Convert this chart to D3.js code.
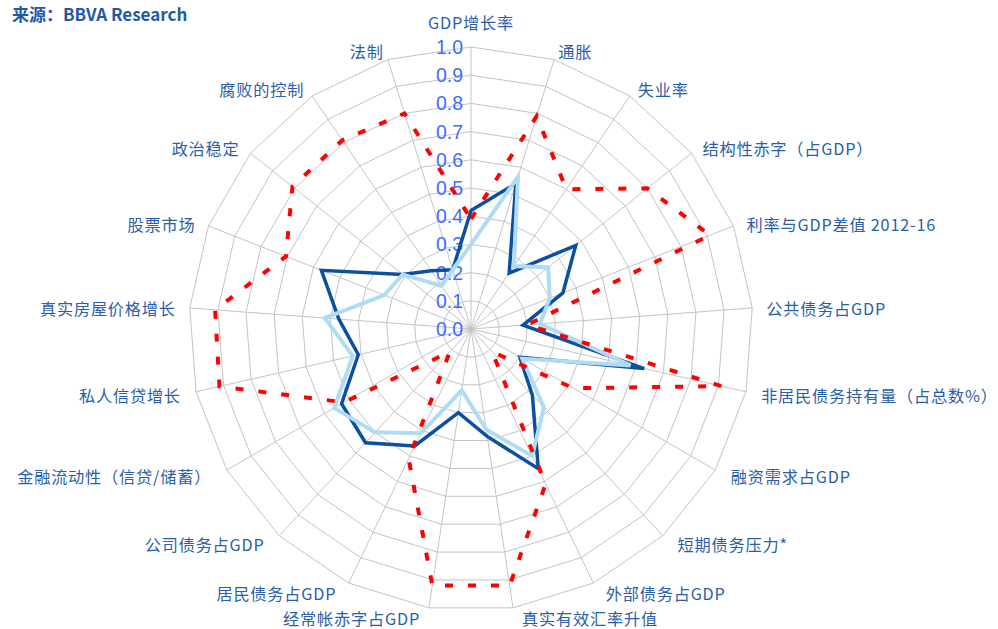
<!DOCTYPE html>
<html>
<head>
<meta charset="utf-8">
<script src="https://cdn.jsdelivr.net/npm/d3@7"></script>
<style>
  body { margin: 0; background: #fff; }
</style>
</head>
<body>
<div id="wrapper"></div>
<script>
// 指标（顺时针，从正上方开始）
const axisNames = [
    "GDP增长率", "通胀", "失业率", "结构性赤字（占GDP）", "利率与GDP差值 2012-16",
    "公共债务占GDP", "非居民债务持有量（占总数%）", "融资需求占GDP", "短期债务压力*",
    "外部债务占GDP", "真实有效汇率升值", "经常帐赤字占GDP", "居民债务占GDP",
    "公司债务占GDP", "金融流动性（信贷/储蓄）", "私人信贷增长", "真实房屋价格增长",
    "股票市场", "政治稳定", "腐败的控制", "法制"
];
const darkValues = [0.42, 0.54, 0.24, 0.475, 0.35, 0.185, 0.63, 0.20, 0.32, 0.55, 0.385,
    0.30, 0.46, 0.55, 0.53, 0.41, 0.47, 0.57, 0.31, 0.25, 0.22];
const lightValues = [0.30, 0.565, 0.27, 0.35, 0.30, 0.245, 0.58, 0.21, 0.38, 0.50, 0.36,
    0.22, 0.41, 0.50, 0.56, 0.43, 0.52, 0.33, 0.31, 0.185, 0.22];
const redValues = [0.39, 0.79, 0.60, 0.80, 0.91, 0.20, 0.91, 0.42, 0.11, 0.61, 0.92,
    0.92, 0.51, 0.11, 0.52, 0.915, 0.91, 0.705, 0.81, 0.81, 0.80];
const tickValues = [0, 0.1, 0.2, 0.3, 0.4, 0.5, 0.6, 0.7, 0.8, 0.9, 1.0];
const sourceText = "来源：BBVA Research";

function buildPlot() {
    var dimension = {
        width: 998,
        height: 629,
        cx: 471,
        cy: 329,
        radius: 282
    };

    const svg = d3.select("#wrapper").append("svg")
        .attr("width", dimension.width)
        .attr("height", dimension.height);

    const n = axisNames.length;
    const angle = d3.scaleLinear().domain([0, n]).range([0, 2 * Math.PI]);
    const rScaler = d3.scaleLinear().domain([0, 1]).range([0, dimension.radius]);

    const bounded = svg.append("g")
        .attr("transform", `translate(${dimension.cx},${dimension.cy})`);

    // 网格
    const ringLine = d3.lineRadial()
        .angle((d, i) => angle(i))
        .radius(d => rScaler(d))
        .curve(d3.curveLinearClosed);

    tickValues.slice(1).forEach(t => {
        bounded.append("path")
            .attr("d", ringLine(d3.range(n).map(() => t)))
            .attr("fill", "none")
            .attr("stroke", "#c4c4c4")
            .attr("stroke-width", 1);
    });

    bounded.selectAll(".spoke")
        .data(axisNames)
        .join("line")
        .attr("x1", 0).attr("y1", 0)
        .attr("x2", (d, i) => rScaler(1) * Math.sin(angle(i)))
        .attr("y2", (d, i) => -rScaler(1) * Math.cos(angle(i)))
        .attr("stroke", "#c4c4c4")
        .attr("stroke-width", 1);

    // 刻度
    bounded.selectAll(".tick")
        .data(tickValues)
        .join("text")
        .attr("x", -8)
        .attr("y", d => -rScaler(d))
        .attr("text-anchor", "end")
        .attr("dominant-baseline", "central")
        .style("font-family", "'Liberation Sans', Arial, sans-serif")
        .style("font-size", "19.5px")
        .attr("fill", "#3f6cff")
        .text(d => d3.format(".1f")(d));

    // 系列
    const seriesLine = d3.lineRadial()
        .angle((d, i) => angle(i))
        .radius(d => rScaler(d))
        .curve(d3.curveLinearClosed);

    bounded.append("path")
        .attr("d", seriesLine(darkValues))
        .attr("fill", "none")
        .attr("stroke", "#0b4f9f")
        .attr("stroke-width", 3.5)
        .attr("stroke-linejoin", "miter");

    bounded.append("path")
        .attr("d", seriesLine(lightValues))
        .attr("fill", "none")
        .attr("stroke", "#b0dcf3")
        .attr("stroke-width", 4)
        .attr("stroke-linejoin", "miter");

    bounded.append("path")
        .attr("d", seriesLine(redValues))
        .attr("fill", "none")
        .attr("stroke", "#ff0000")
        .attr("stroke-width", 4)
        .attr("stroke-dasharray", "8,15");

    // 指标名称
    const labelR = dimension.radius + 14;
    bounded.selectAll(".axis-label")
        .data(axisNames)
        .join("text")
        .attr("x", (d, i) => {
            const s = Math.sin(angle(i)), c = Math.cos(angle(i));
            if (Math.abs(s) < 0.05) return 0;
            return labelR * s + Math.sign(s) * 7 * Math.max(0, -c);
        })
        .attr("y", (d, i) => {
            const c = Math.cos(angle(i));
            if (i === 0) return -dimension.radius - 25;
            return -(labelR + 2) * c + 1 + 6.5 * c;
        })
        .attr("text-anchor", (d, i) => {
            const s = Math.sin(angle(i));
            if (Math.abs(s) < 0.05) return "middle";
            return s > 0 ? "start" : "end";
        })
        .attr("dominant-baseline", "central")
        .style("font-family", "'Noto Sans CJK SC', sans-serif")
        .style("font-size", "16.2px")
        .style("letter-spacing", "0.8px")
        .attr("fill", "#2a5ea8")
        .text(d => d);

    svg.append("text")
        .attr("x", 12)
        .attr("y", 13)
        .attr("dominant-baseline", "central")
        .style("font-family", "'Noto Sans CJK SC', sans-serif")
        .style("font-size", "17px")
        .style("font-weight", "600")
        .attr("fill", "#1f5aa8")
        .text(sourceText);
}

buildPlot();
</script>
</body>
</html>
